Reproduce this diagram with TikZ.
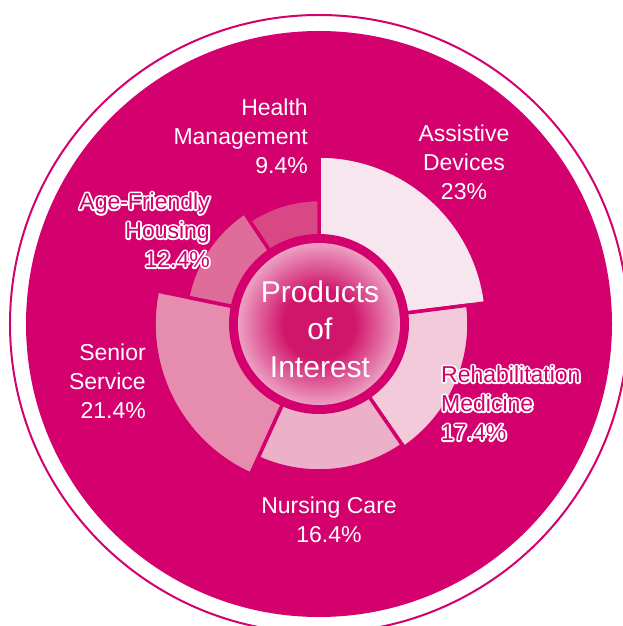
\documentclass[tikz,border=0pt]{standalone}
\usepackage{fontspec}
\setmainfont{Liberation Sans}
\definecolor{mag}{RGB}{212,0,110}
\definecolor{cAssist}{RGB}{248,230,238}
\definecolor{cRehab}{RGB}{242,202,217}
\definecolor{cNurse}{RGB}{236,176,200}
\definecolor{cSenior}{RGB}{230,141,175}
\definecolor{cAge}{RGB}{223,109,154}
\definecolor{cHealth}{RGB}{216,72,133}
\definecolor{ctrin}{RGB}{208,22,108}
\definecolor{ctrout}{RGB}{236,160,194}
\pgfdeclareradialshading{ctrshade}{\pgfpoint{0bp}{0bp}}{color(0bp)=(ctrin); color(11bp)=(ctrin); color(25bp)=(ctrout); color(50bp)=(ctrout)}
\newcommand\mysector[4]{\filldraw[fill=#1, draw=mag, line width=3.5] (0,0) -- (#2:#4) arc[start angle=#2, end angle=#3, radius=#4] -- cycle;}
\newcommand\outs[1]{\special{pdf:literal direct 1 Tr 3.6 w 1 1 1 RG 1 j}#1\special{pdf:literal direct 0 Tr}}
\tikzset{
  lbl/.style={text=white, font=\fontsize{23}{29}\selectfont, inner sep=0pt},
  olbl/.style={text=mag, font=\fontsize{23}{29}\selectfont, inner sep=0pt},
  obg/.style={text=white, font=\fontsize{23}{29}\selectfont, inner sep=0pt},
  ctr/.style={text=white, font=\fontsize{30}{37.5}\selectfont, inner sep=0pt, align=center}
}
\begin{document}
\begin{tikzpicture}[x=1pt,y=1pt]
\useasboundingbox (-319,-302) rectangle (304,324);
\clip (-319,-302) rectangle (304,324);
\fill[white] (-319,-302) rectangle (304,324);
\draw[mag, line width=2] (0,0) circle (309);
\fill[mag] (0,0) circle (293);
\mysector{cAssist}{7.2}{90}{168}
\mysector{cRehab}{-55.44}{7.2}{150}
\mysector{cNurse}{-114.48}{-55.44}{147}
\mysector{cSenior}{-191.52}{-114.48}{165}
\mysector{cAge}{-236.16}{-191.52}{134}
\mysector{cHealth}{-270}{-236.16}{124.5}
\fill[mag] (0,0) circle (90);
\shade[shading=ctrshade] (0,0) circle (81);
\node[ctr] (center) at (1,-5) {Products\\of\\Interest};
\node[lbl, align=right, anchor=east] (health) at (-11,188) {Health\\Management\\9.4\%};
\node[lbl, align=center] (assist) at (145,162) {Assistive\\Devices\\23\%};
\node[obg, align=right, anchor=east] (agebg) at (-109,94) {\outs{Age-Friendly}\\\outs{Housing}\\\outs{12.4\%}};
\node[olbl, align=right, anchor=east] (age) at (-109,94) {Age-Friendly\\Housing\\12.4\%};
\node[lbl, align=right, anchor=east] (senior) at (-173,-57) {Senior\\Service\\21.4\%};
\node[obg, align=left, anchor=west] (rehabbg) at (122,-79) {\outs{Rehabilitation}\\\outs{Medicine}\\\outs{17.4\%}};
\node[olbl, align=left, anchor=west] (rehab) at (122,-79) {Rehabilitation\\Medicine\\17.4\%};
\node[lbl, align=center] (nurse) at (10,-196) {Nursing Care\\16.4\%};
\end{tikzpicture}
\end{document}
